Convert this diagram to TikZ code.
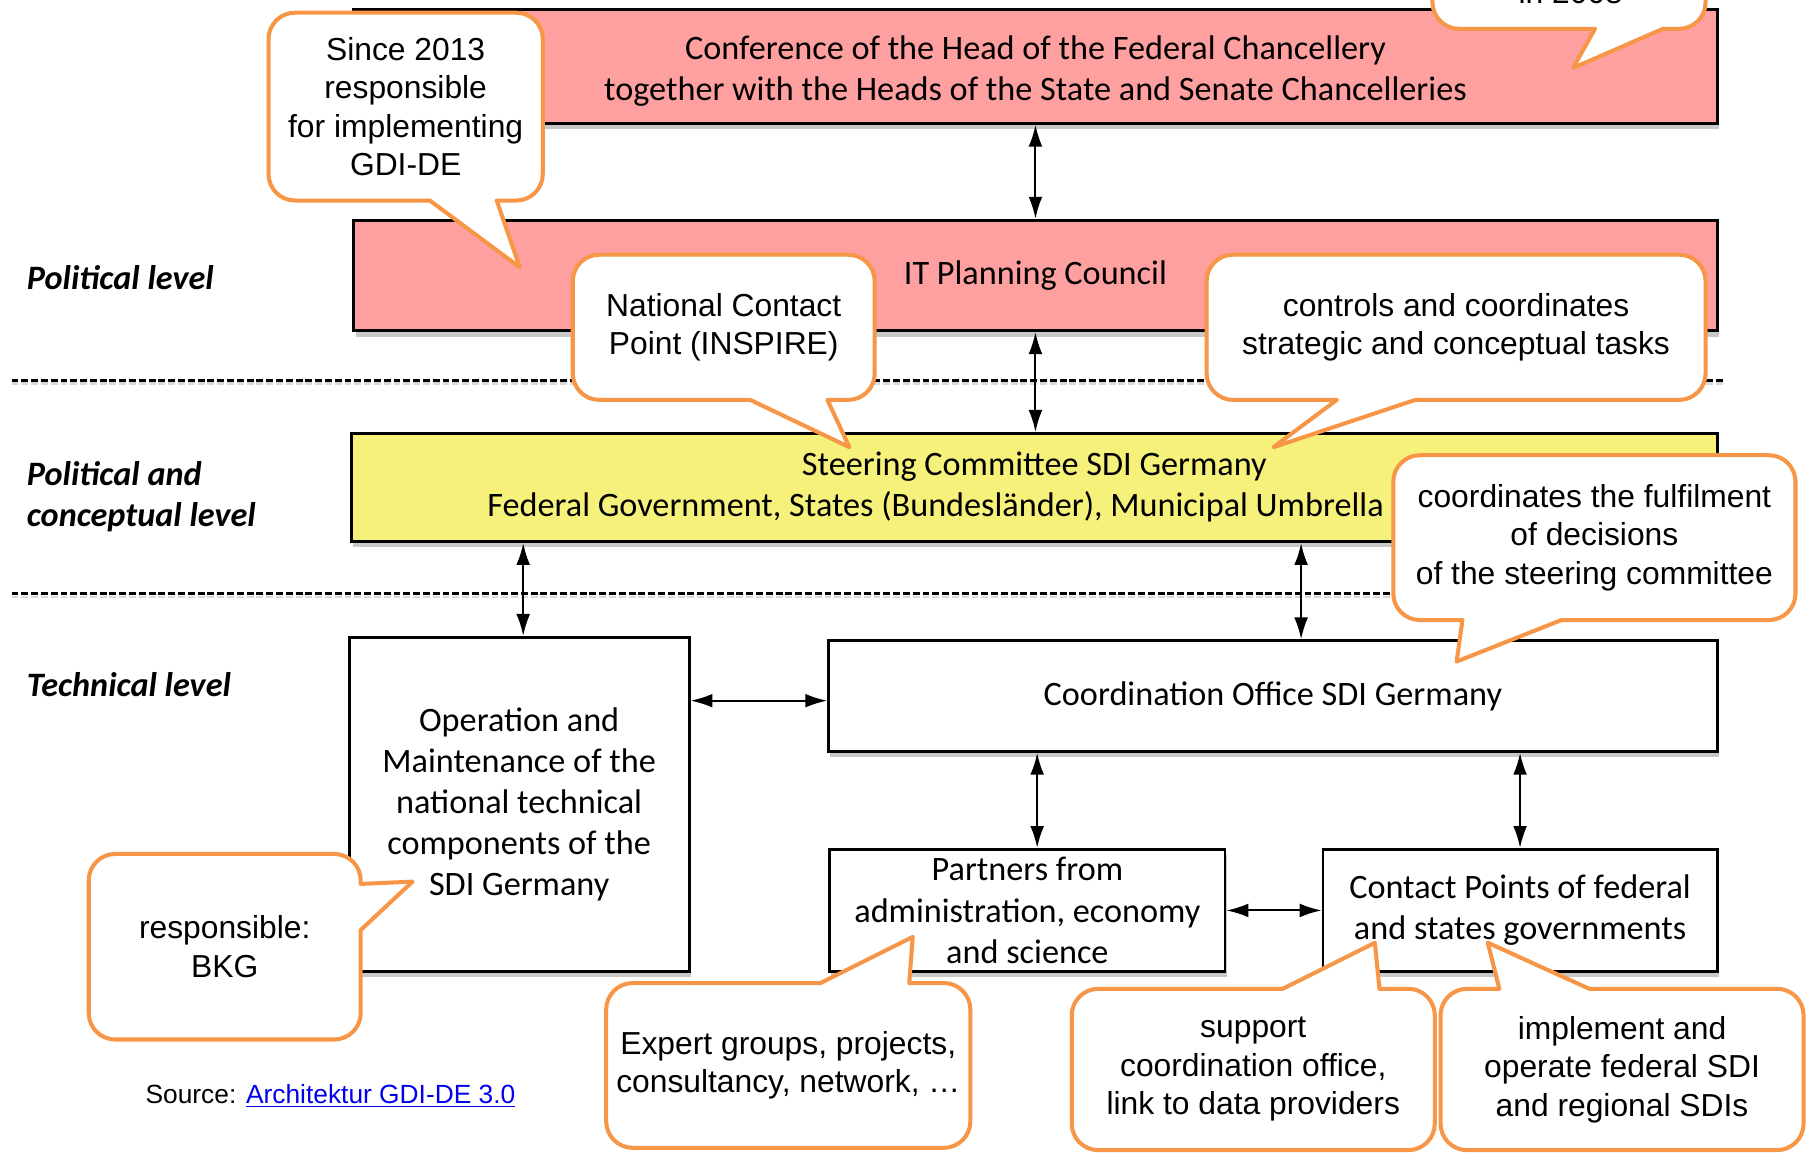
\documentclass[tikz,border=0pt]{standalone}
\usepackage{fontspec}
\setmainfont{Liberation Sans}
\newfontfamily\boxfont{Carlito}
\usetikzlibrary{arrows.meta,shadows,calc}
\definecolor{pinkbox}{RGB}{255,160,160}
\definecolor{yellowbox}{RGB}{246,241,122}
\definecolor{callorange}{RGB}{247,150,70}
\definecolor{linkblue}{RGB}{0,0,238}
\tikzset{
  box/.style={draw,line width=.5mm,fill=white,inner sep=0pt,align=center,
    font=\boxfont\fontsize{16.9}{20.3}\selectfont,
    drop shadow={shadow xshift=.3mm,shadow yshift=-1mm,opacity=.3,fill=black!70}},
  boxsize/.style 2 args={minimum width=#1*.2mm,minimum height=#2*.2mm},
  link/.style={line width=.35mm,{Latex[length=3.8mm,width=2.4mm]}-{Latex[length=3.8mm,width=2.4mm]}},
  level/.style={anchor=west,align=left,inner sep=0pt,font=\boxfont\bfseries\itshape\fontsize{16.9}{20.3}\selectfont},
  sep/.style={line width=.45mm,dash pattern=on 1.2mm off .5mm},
  bubble/.style={draw=callorange,line width=.7mm,fill=white,rounded corners=4.6mm,
    inner sep=0pt,align=center,font=\fontsize{15.7}{19}\selectfont},
  tipline/.style={draw=callorange,line width=.7mm,line join=round,line cap=round},
}
% pointer of a callout: base, tip, base, shift into the bubble
\newcommand{\calltip}[4]{%
  \fill[white] ($#1+#4$) -- #1 -- #2 -- #3 -- ($#3+#4$) -- cycle;
  \draw[tipline] #1 -- #2 -- #3;}
\begin{document}
\begin{tikzpicture}[x=.2mm,y=-.2mm]
  \useasboundingbox (0,0) rectangle (1568,1001);
  \clip (0,0) rectangle (1568,1001);
  \fill[white] (0,0) rectangle (1568,1001);

  % levels
  \node[level] (lpol) at (23,241) {Political level};
  \node[level] (lcon) at (23,431) {Political and\\conceptual level};
  \node[level] (ltec) at (23,594) {Technical level};
  \foreach \y in {330,515}{%
    \draw[sep,black!15] (10,\y+3)--(1497,\y+3);
    \draw[sep] (10,\y)--(1497,\y);
  }

  % boxes
  \node[box,boxsize={1183}{99},fill=pinkbox] (conf) at (898.5,57.5)
    {\\[-.5ex]Conference of the Head of the Federal Chancellery\\together with the Heads of the State and Senate Chancelleries};
  \node[box,boxsize={1183}{96},fill=pinkbox] (itpc) at (898.5,239) {IT Planning Council};
  \node[box,boxsize={1185}{94},fill=yellowbox] (steer) at (897.5,423)
    {Steering Committee SDI Germany\\Federal Government, States (Bundesländer), Municipal Umbrella Organisations};
  \node[box,boxsize={295}{290}] (ops) at (450.5,698)
    {Operation and\\Maintenance of the\\national technical\\components of the\\SDI Germany};
  \node[box,boxsize={771}{96}] (coord) at (1104.5,604) {Coordination Office SDI Germany};
  \node[box,boxsize={343}{106}] (partners) at (891.5,790) {Partners from\\administration, economy\\and science};
  \node[box,boxsize={342}{106}] (contact) at (1319,790) {Contact Points of federal\\and states governments};

  % arrows
  \draw[link] (conf) -- (itpc);
  \draw[link] (itpc.south) -- (itpc.south |- steer.north);
  \draw[link] ([xshift=.7mm]ops.north |- steer.south) -- ([xshift=.7mm]ops.north);
  \draw[link] ([xshift=4.9mm]coord.north |- steer.south) -- ([xshift=4.9mm]coord.north);
  \draw[link] ([yshift=-.8mm]ops.east |- coord.west) -- ([yshift=-.8mm]coord.west);
  \draw[link] ([xshift=1.7mm]partners.north |- coord.south) -- ([xshift=1.7mm]partners.north);
  \draw[link] (contact.north |- coord.south) -- (contact.north);
  \draw[link] (partners) -- (contact);

  % callouts
  \node[bubble,boxsize={238}{163}] (csince) at (352,92.5) {Since 2013\\responsible\\for implementing\\GDI-DE};
  \calltip{(373,174)}{(451,232)}{(431,174)}{(0,-8)}
  \node[bubble,boxsize={237}{175}] (cyear) at (1361.5,-62.5) {};
  \node[anchor=base,font=\fontsize{15.7}{19}\selectfont] (tyear) at (1363,2.6) {in 2008};
  \calltip{(1384,25)}{(1365,59)}{(1443,25)}{(0,-8)}
  \node[bubble,boxsize={262}{126}] (cncp) at (628,284) {National Contact\\Point (INSPIRE)};
  \calltip{(651,347)}{(737,388)}{(718,347)}{(0,-8)}
  \node[bubble,boxsize={433}{126}] (cctrl) at (1263.5,284) {controls and coordinates\\strategic and conceptual tasks};
  \calltip{(1160,347)}{(1105,388)}{(1228,347)}{(0,-8)}
  \node[bubble,boxsize={349}{143}] (ccoord) at (1383.5,466.5) {coordinates the fulfilment\\of decisions\\of the steering committee};
  \calltip{(1269,538)}{(1264,574)}{(1355,538)}{(0,-8)}
  \node[bubble,boxsize={236}{161}] (cbkg) at (195,821.5) {responsible:\\BKG};
  \calltip{(313,767)}{(358,765)}{(313,807)}{(-8,0)}
  \node[bubble,boxsize={316}{143}] (cexp) at (684,924.5) {Expert groups, projects,\\consultancy, network, \dots};
  \calltip{(712,853)}{(792,813)}{(789,853)}{(0,8)}
  \node[bubble,boxsize={315}{140}] (csup) at (1087.5,928) {support\\coordination office,\\link to data providers};
  \calltip{(1113,858)}{(1193,818)}{(1197,858)}{(0,8)}
  \node[bubble,boxsize={315}{140}] (cimp) at (1407.5,928) {implement and\\operate federal SDI\\and regional SDIs};
  \calltip{(1301,858)}{(1291,818)}{(1379,858)}{(0,8)}

  \node[anchor=west,inner sep=0pt,font=\fontsize{13}{16}\selectfont] (src) at (126,951)
    {Source: \textcolor{linkblue}{\underline{Architektur GDI-DE 3.0}}};
\end{tikzpicture}
\end{document}
